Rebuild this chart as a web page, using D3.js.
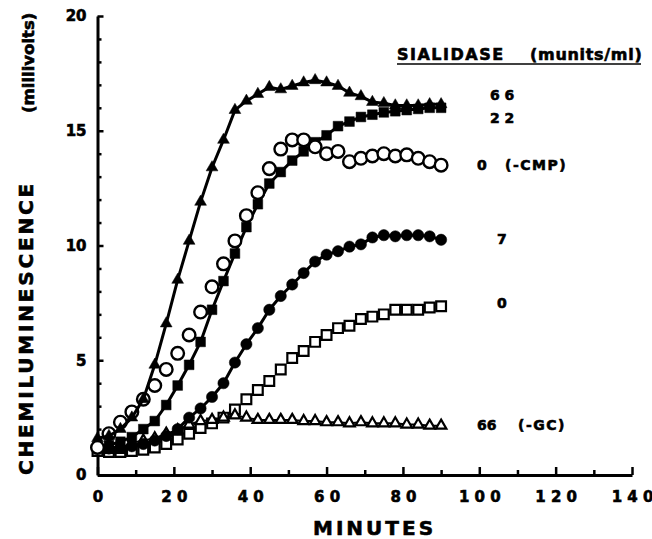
<!DOCTYPE html>
<html><head><meta charset="utf-8">
<script src="https://cdn.jsdelivr.net/npm/d3@7"></script>
<style>
body{margin:0;background:#fff;}
text{font-family:"DejaVu Sans",sans-serif;font-weight:bold;fill:#000;stroke:#000;stroke-width:0.6px;}
</style></head>
<body><svg id="c" width="652" height="539"></svg>
<script>
// ---- data ----
const minutes = [0,3,6,9,12,15,18,21,24,27,30,33,36,39,42,45,48,51,54,57,60,63,66,69,72,75,78,81,84,87,90];
const sialidase66 = [1.6,1.7,2.0,2.5,3.3,4.8,6.6,8.5,10.2,11.9,13.4,14.6,15.9,16.3,16.6,16.9,16.8,16.95,17.1,17.2,17.1,16.95,16.65,16.5,16.25,16.2,16.1,16.1,16.1,16.15,16.15];
const sialidase22 = [1.2,1.3,1.45,1.65,2.0,2.35,3.05,3.9,4.8,5.8,7.2,8.45,9.65,10.8,11.8,12.7,13.2,13.7,14.1,14.5,14.8,15.2,15.4,15.6,15.7,15.8,15.85,15.9,15.95,16.0,16.0];
const sialidase0CMP = [1.2,1.8,2.3,2.75,3.3,3.9,4.6,5.3,6.1,7.1,8.2,9.2,10.2,11.3,12.3,13.35,14.2,14.6,14.6,14.3,14.0,14.1,13.65,13.8,13.9,14.0,13.9,13.95,13.8,13.65,13.5];
const sialidase7 = [1.2,1.15,1.2,1.25,1.35,1.5,1.7,2.0,2.5,2.9,3.4,4.0,4.9,5.7,6.4,7.2,7.8,8.3,8.8,9.3,9.6,9.75,9.95,10.05,10.35,10.45,10.4,10.45,10.45,10.4,10.25];
const sialidase0 = [1.05,1.0,1.0,1.05,1.1,1.2,1.35,1.55,1.8,2.05,2.25,2.5,2.85,3.3,3.7,4.1,4.6,5.1,5.4,5.8,6.1,6.4,6.5,6.8,6.9,7.0,7.2,7.2,7.2,7.3,7.35];
const sialidase66GC = [1.3,1.1,1.1,1.4,1.5,1.6,1.8,1.95,2.2,2.35,2.4,2.5,2.6,2.5,2.4,2.4,2.4,2.4,2.35,2.35,2.3,2.3,2.25,2.3,2.25,2.25,2.25,2.2,2.2,2.15,2.15];
const xMajorTicks = [0,20,40,60,80,100,120,140];
const xMinorTicks = [10,30,50,70,90,110,130];
const yMajorTicks = [0,5,10,15,20];
const yMinorTicks = [1,2,3,4,6,7,8,9,11,12,13,14,16,17,18,19];
const legendTitle = "SIALIDASE";
const legendUnits = "(munits/ml)";
const seriesLabels = [
  {num:"6 6", note:""},
  {num:"2 2", note:""},
  {num:"0", note:"(-CMP)"},
  {num:"7", note:""},
  {num:"0", note:""},
  {num:"66", note:"(-GC)"}
];

const svg = d3.select("#c");
svg.append("rect").attr("width",652).attr("height",539).attr("fill","#fff");
const x = d3.scaleLinear().domain([0,140]).range([97.5,632]);
const y = d3.scaleLinear().domain([0,20]).range([475,16]);

// axes
svg.append("g").attr("transform","translate(0,475)")
  .call(d3.axisBottom(x).tickValues(xMajorTicks).tickSize(-8).tickSizeOuter(0).tickPadding(16)
    .tickFormat(d=>String(d).split("").join(" ")));
svg.append("g").attr("transform","translate(0,475)")
  .call(d3.axisBottom(x).tickValues(xMinorTicks).tickSize(-5).tickFormat(""))
  .select(".domain").remove();
svg.append("g").attr("transform","translate(97.5,0)")
  .call(d3.axisLeft(y).tickValues(yMajorTicks).tickSize(-6).tickSizeOuter(0).tickPadding(11));
svg.append("g").attr("transform","translate(97.5,0)")
  .call(d3.axisLeft(y).tickValues(yMinorTicks).tickSize(-4).tickFormat(""))
  .select(".domain").remove();
svg.selectAll(".domain").attr("stroke","#000").attr("stroke-width",3);
svg.selectAll(".tick line").attr("stroke","#000").attr("stroke-width",2.5);
svg.selectAll(".tick text").style("font-size","15px").style("font-family","'DejaVu Sans'")
  .style("font-weight","bold").attr("fill","#000").attr("stroke","#000").attr("stroke-width",0.6);

// axis titles
svg.append("text").attr("x",313).attr("y",535).attr("text-anchor","start")
  .style("font-size","20px").style("letter-spacing","3px").text("MINUTES");
svg.append("text").attr("transform","translate(33,475) rotate(-90)")
  .style("font-size","20px").style("letter-spacing","2.8px").text("CHEMILUMINESCENCE");
svg.append("text").attr("transform","translate(34,113) rotate(-90)")
  .style("font-size","16.5px").text("(millivolts)");

// legend title
svg.append("text").attr("x",397).attr("y",60).style("font-size","16px").style("letter-spacing","1.5px").text(legendTitle);
svg.append("text").attr("x",530).attr("y",60).style("font-size","16px").style("letter-spacing","0.7px").text(legendUnits);
svg.append("line").attr("x1",397).attr("x2",641).attr("y1",64).attr("y2",64).attr("stroke","#000").attr("stroke-width",1.6);

// series
const pts = v => minutes.map((m,i)=>[m,v[i]]);
const line = d3.line().x(d=>x(d[0])).y(d=>y(d[1]));
function drawLine(v,w){
  svg.append("path").datum(pts(v)).attr("d",line).attr("fill","none").attr("stroke","#000").attr("stroke-width",w).attr("stroke-linejoin","round");
}
function drawSym(v,type,size,fill,sw){
  svg.append("g").selectAll("path").data(pts(v)).join("path")
    .attr("transform",d=>`translate(${x(d[0])},${y(d[1])})`)
    .attr("d",d3.symbol().type(type).size(size))
    .attr("fill",fill).attr("stroke","#000").attr("stroke-width",sw);
}
// open squares (0)
drawSym(sialidase0,d3.symbolSquare,95,"#fff",2.2);
// open triangles (66 -GC)
drawLine(sialidase66GC,2);
drawSym(sialidase66GC,d3.symbolTriangle,48,"#fff",2.2);
// filled circles (7)
drawLine(sialidase7,3);
drawSym(sialidase7,d3.symbolCircle,100,"#000",0.5);
// filled squares (22)
drawLine(sialidase22,3);
drawSym(sialidase22,d3.symbolSquare,95,"#000",0.5);
// open circles (0, -CMP)
drawSym(sialidase0CMP,d3.symbolCircle,125,"#fff",2.4);
// filled triangles (66)
drawLine(sialidase66,3);
drawSym(sialidase66,d3.symbolTriangle,60,"#000",0.5);

// right-hand labels
const labelPos = [
  {x:490, y:100, nx:null},
  {x:490, y:123, nx:null},
  {x:477, y:170, nx:505},
  {x:497, y:244, nx:null},
  {x:497, y:308, nx:null},
  {x:477, y:430, nx:518}
];
seriesLabels.forEach((s,i)=>{
  const p = labelPos[i];
  svg.append("text").attr("x",p.x).attr("y",p.y).style("font-size","14px").text(s.num);
  if (s.note) svg.append("text").attr("x",p.nx).attr("y",p.y).style("font-size","14px").style("letter-spacing","1.5px").text(s.note);
});
</script></body></html>
